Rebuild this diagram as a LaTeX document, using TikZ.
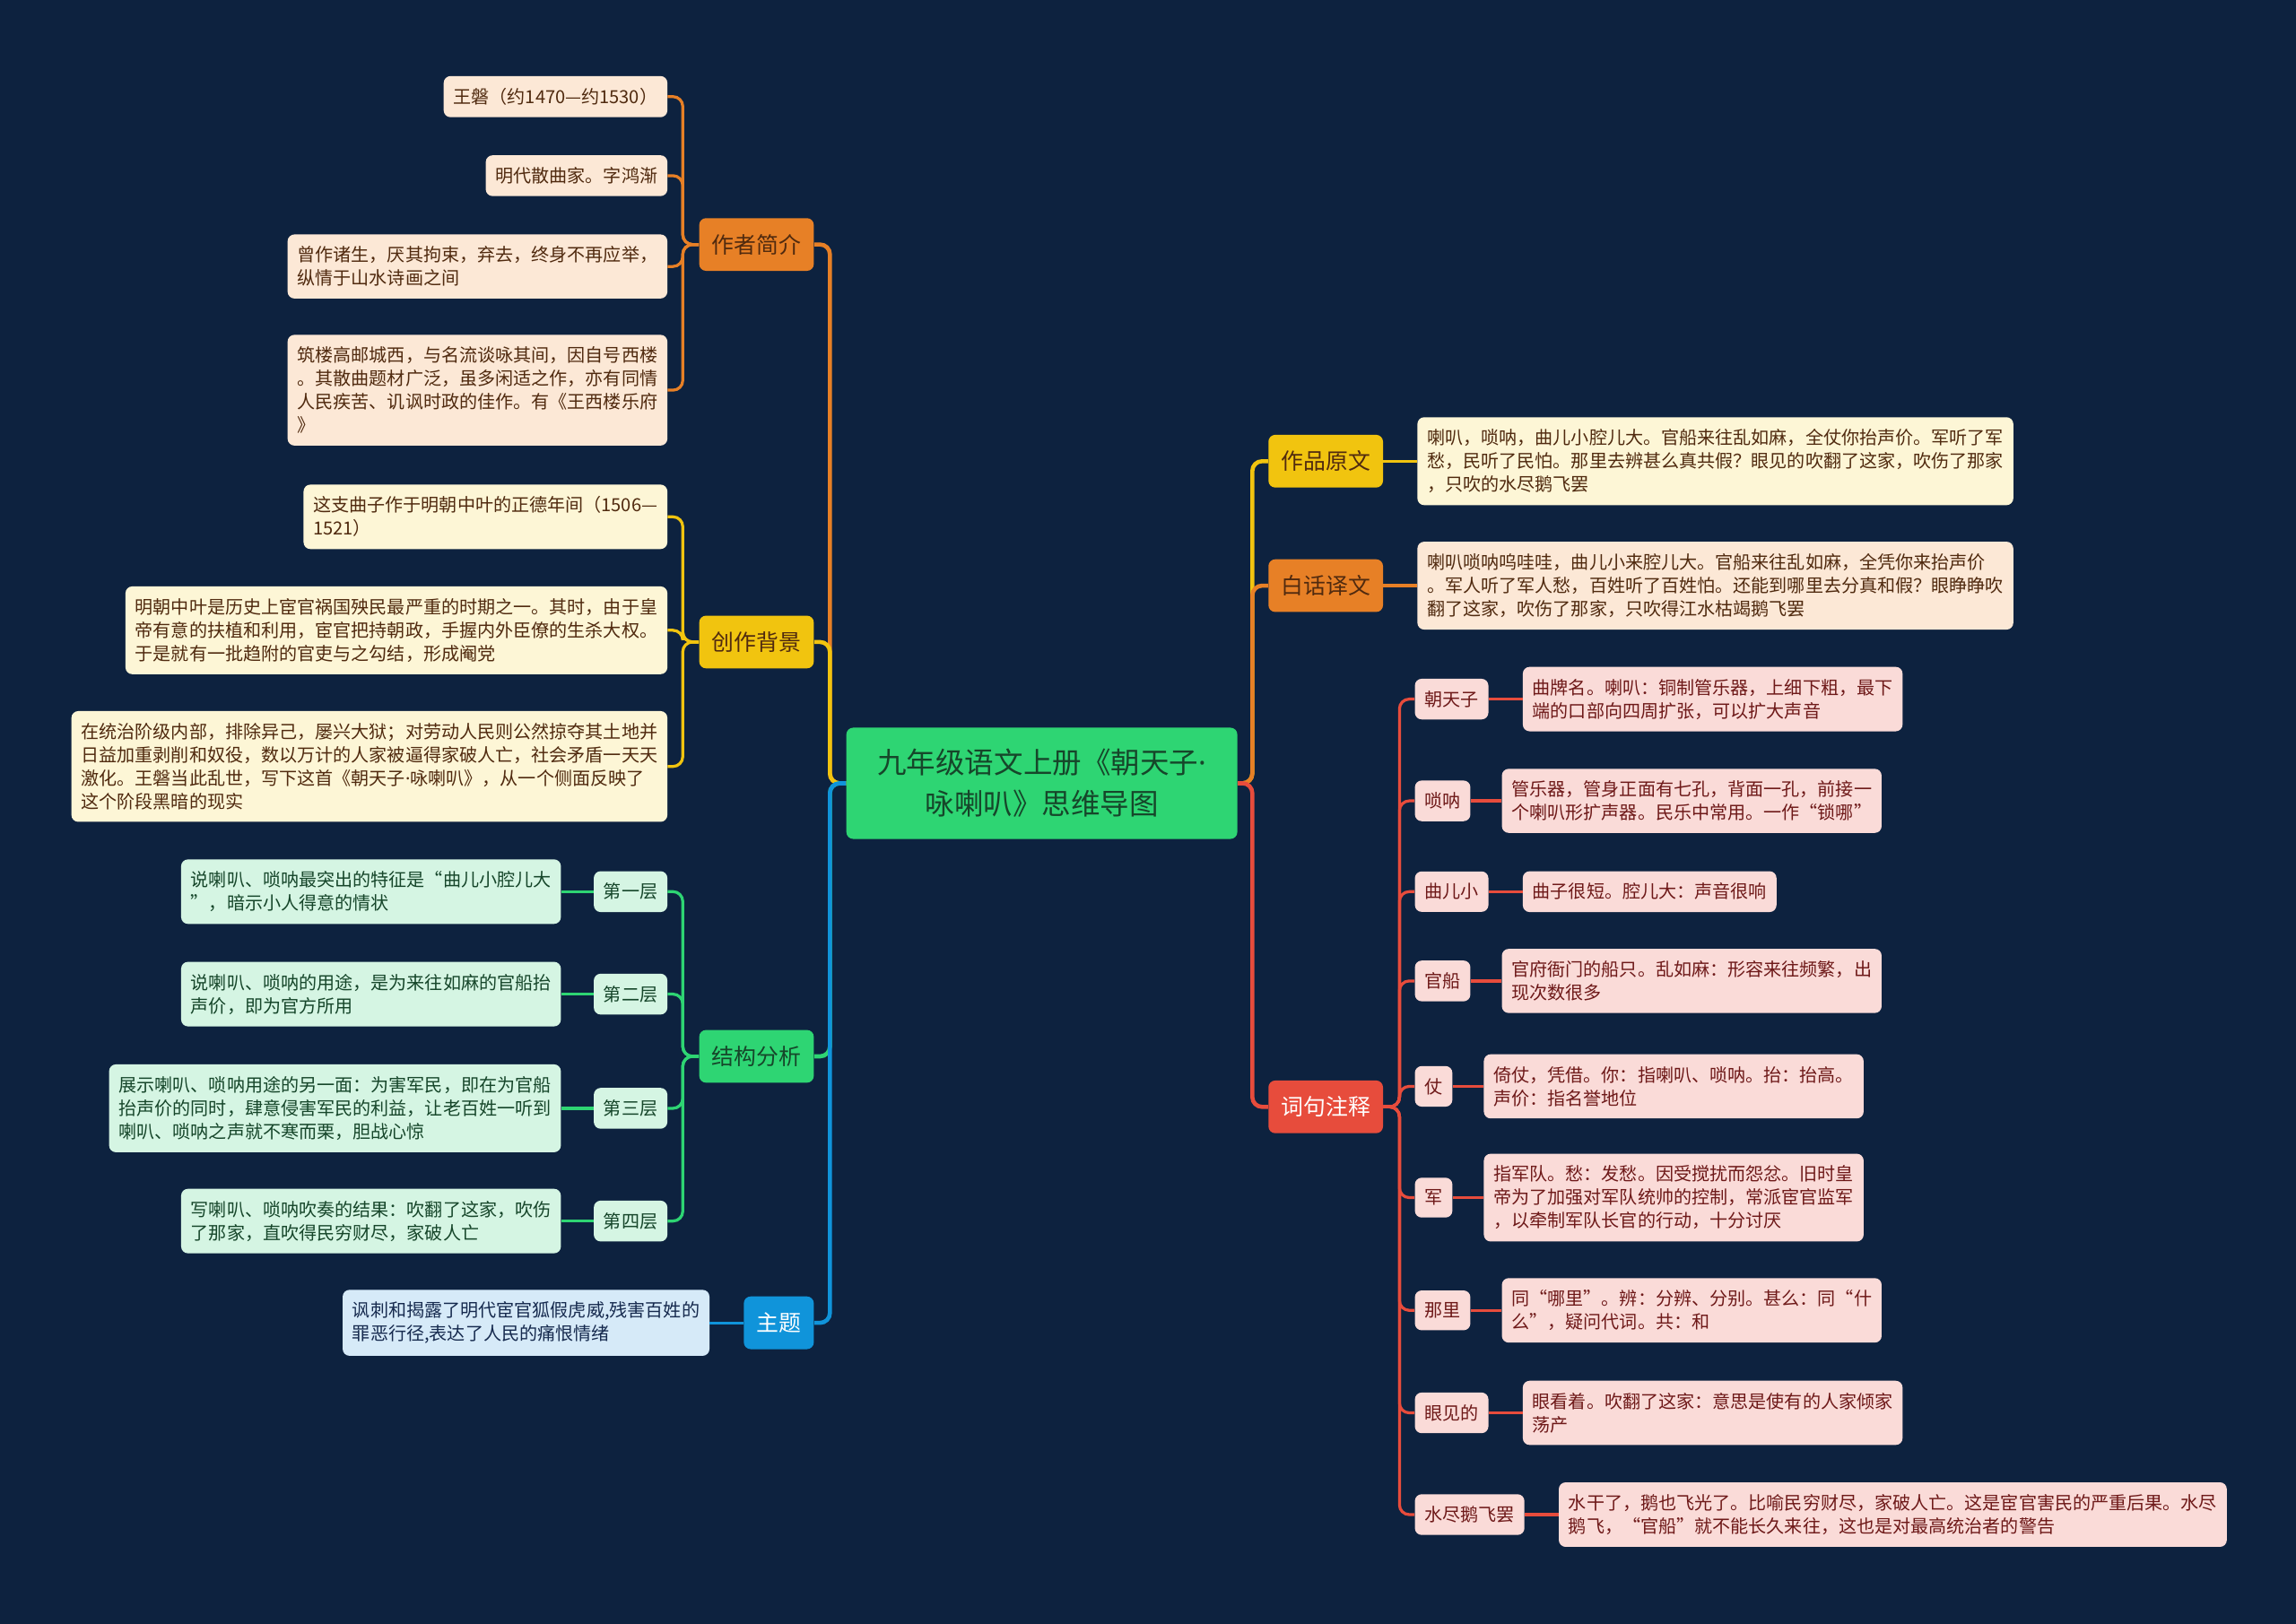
\documentclass[tikz,border=0pt]{standalone}
\usepackage{fontspec}
\setmainfont{Noto Sans CJK SC}
\newfontfamily\latinfont{Noto Sans}
\usepackage{tikz}
\usepackage{xcolor}
\usetikzlibrary{positioning}
\newcommand{\middot}{{\latinfont ·}}

\definecolor{bgnavy}{RGB}{13,34,63}
\definecolor{topicgreen}{RGB}{46,213,115}
\definecolor{mainorange}{RGB}{231,128,38}
\definecolor{mainyellow}{RGB}{241,196,15}
\definecolor{mainred}{RGB}{231,76,60}
\definecolor{mainblue}{RGB}{16,148,218}
\definecolor{peachfill}{RGB}{252,232,214}
\definecolor{creamfill}{RGB}{253,246,214}
\definecolor{mintfill}{RGB}{213,245,227}
\definecolor{skyfill}{RGB}{214,234,248}
\definecolor{pinkfill}{RGB}{250,219,216}
\definecolor{browninkk}{RGB}{80,42,15}
\definecolor{greenink}{RGB}{22,70,42}
\definecolor{maroonink}{RGB}{110,25,25}
\definecolor{navyink}{RGB}{22,42,78}

\begin{document}
\begin{tikzpicture}[x=0.03cm, y=-0.03cm,
    topic/.style={rounded corners=4pt, fill=topicgreen, text=greenink, align=center,
        font=\fontsize{17pt}{24pt}\selectfont, minimum width=8.01cm, minimum height=2.28cm},
    branch/.style={rounded corners=4pt, inner xsep=0.26cm, minimum height=1.08cm,
        font=\fontsize{13pt}{16pt}\selectfont},
    leaf/.style={rounded corners=4pt, align=left, inner xsep=0.2cm, inner ysep=7pt,
        font=\fontsize{10.5pt}{13.6pt}\selectfont},
    link/.style={line width=2.4pt, rounded corners=0.2cm},
    twig/.style={line width=1.7pt, rounded corners=0.2cm}]

    % Background
    \fill[bgnavy] (0,0) rectangle (1568,1109);

    % Central topic
    \node[topic] (title) at (711.5,535) {九年级语文上册《朝天子\middot\\咏喇叭》思维导图};

    % Left branches
    \node[branch, fill=mainorange, text=browninkk, anchor=east] (author) at (556,167) {作者简介};
    \node[branch, fill=mainyellow, text=browninkk, anchor=east] (backdrop) at (556,438.5) {创作背景};
    \node[branch, fill=topicgreen, text=greenink, anchor=east] (layout) at (556,721.5) {结构分析};
    \node[branch, fill=mainblue, text=white, anchor=east] (theme) at (556,903.5) {主题};

    % Right branches
    \node[branch, fill=mainyellow, text=browninkk, anchor=west] (original) at (866,315) {作品原文};
    \node[branch, fill=mainorange, text=browninkk, anchor=west] (version) at (866,400) {白话译文};
    \node[branch, fill=mainred, text=white, anchor=west] (notes) at (866,756) {词句注释};

    % Author leaves
    \node[leaf, fill=peachfill, text=browninkk, anchor=east] (a1) at (456,66) {王磐（约1470—约1530）};
    \node[leaf, fill=peachfill, text=browninkk, anchor=east] (a2) at (456,120) {明代散曲家。字鸿渐};
    \node[leaf, fill=peachfill, text=browninkk, anchor=east] (a3) at (456,182) {曾作诸生，厌其拘束，弃去，终身不再应举，\\纵情于山水诗画之间};
    \node[leaf, fill=peachfill, text=browninkk, anchor=east] (a4) at (456,266.5) {筑楼高邮城西，与名流谈咏其间，因自号西楼\\。其散曲题材广泛，虽多闲适之作，亦有同情\\人民疾苦、讥讽时政的佳作。有《王西楼乐府\\》};

    % Background leaves
    \node[leaf, fill=creamfill, text=browninkk, anchor=east] (b1) at (456,353) {这支曲子作于明朝中叶的正德年间（1506—\\1521）};
    \node[leaf, fill=creamfill, text=browninkk, anchor=east] (b2) at (456,430.5) {明朝中叶是历史上宦官祸国殃民最严重的时期之一。其时，由于皇\\帝有意的扶植和利用，宦官把持朝政，手握内外臣僚的生杀大权。\\于是就有一批趋附的官吏与之勾结，形成阉党};
    \node[leaf, fill=creamfill, text=browninkk, anchor=east] (b3) at (456,523.5) {在统治阶级内部，排除异己，屡兴大狱；对劳动人民则公然掠夺其土地并\\日益加重剥削和奴役，数以万计的人家被逼得家破人亡，社会矛盾一天天\\激化。王磐当此乱世，写下这首《朝天子\middot 咏喇叭》，从一个侧面反映了\\这个阶段黑暗的现实};

    % Structure layers
    \node[leaf, fill=mintfill, text=greenink, anchor=east] (s1) at (456,609) {第一层};
    \node[leaf, fill=mintfill, text=greenink, anchor=east] (s2) at (456,679) {第二层};
    \node[leaf, fill=mintfill, text=greenink, anchor=east] (s3) at (456,757) {第三层};
    \node[leaf, fill=mintfill, text=greenink, anchor=east] (s4) at (456,834) {第四层};
    \node[leaf, fill=mintfill, text=greenink, left=0.66cm of s1] (s1x) {说喇叭、唢呐最突出的特征是“曲儿小腔儿大\\”，暗示小人得意的情状};
    \node[leaf, fill=mintfill, text=greenink, left=0.66cm of s2] (s2x) {说喇叭、唢呐的用途，是为来往如麻的官船抬\\声价，即为官方所用};
    \node[leaf, fill=mintfill, text=greenink, left=0.66cm of s3] (s3x) {展示喇叭、唢呐用途的另一面：为害军民，即在为官船\\抬声价的同时，肆意侵害军民的利益，让老百姓一听到\\喇叭、唢呐之声就不寒而栗，胆战心惊};
    \node[leaf, fill=mintfill, text=greenink, left=0.66cm of s4] (s4x) {写喇叭、唢呐吹奏的结果：吹翻了这家，吹伤\\了那家，直吹得民穷财尽，家破人亡};

    % Theme leaf
    \node[leaf, fill=skyfill, text=navyink, left=0.69cm of theme] (t1) {讽刺和揭露了明代宦官狐假虎威,残害百姓的\\罪恶行径,表达了人民的痛恨情绪};

    % Original text and translation
    \node[leaf, fill=creamfill, text=browninkk, right=0.69cm of original] (o1) {喇叭，唢呐，曲儿小腔儿大。官船来往乱如麻，全仗你抬声价。军听了军\\愁，民听了民怕。那里去辨甚么真共假？眼见的吹翻了这家，吹伤了那家\\，只吹的水尽鹅飞罢};
    \node[leaf, fill=peachfill, text=browninkk, right=0.69cm of version] (v1) {喇叭唢呐呜哇哇，曲儿小来腔儿大。官船来往乱如麻，全凭你来抬声价\\。军人听了军人愁，百姓听了百姓怕。还能到哪里去分真和假？眼睁睁吹\\翻了这家，吹伤了那家，只吹得江水枯竭鹅飞罢};

    % Word notes
    \node[leaf, fill=pinkfill, text=maroonink, anchor=west] (k1) at (966,477.5) {朝天子};
    \node[leaf, fill=pinkfill, text=maroonink, anchor=west] (k2) at (966,547) {唢呐};
    \node[leaf, fill=pinkfill, text=maroonink, anchor=west] (k3) at (966,609) {曲儿小};
    \node[leaf, fill=pinkfill, text=maroonink, anchor=west] (k4) at (966,670) {官船};
    \node[leaf, fill=pinkfill, text=maroonink, anchor=west] (k5) at (966,742) {仗};
    \node[leaf, fill=pinkfill, text=maroonink, anchor=west] (k6) at (966,818) {军};
    \node[leaf, fill=pinkfill, text=maroonink, anchor=west] (k7) at (966,895) {那里};
    \node[leaf, fill=pinkfill, text=maroonink, anchor=west] (k8) at (966,965) {眼见的};
    \node[leaf, fill=pinkfill, text=maroonink, anchor=west] (k9) at (966,1034.5) {水尽鹅飞罢};
    \node[leaf, fill=pinkfill, text=maroonink, right=0.69cm of k1] (k1x) {曲牌名。喇叭：铜制管乐器，上细下粗，最下\\端的口部向四周扩张，可以扩大声音};
    \node[leaf, fill=pinkfill, text=maroonink, right=0.63cm of k2] (k2x) {管乐器，管身正面有七孔，背面一孔，前接一\\个喇叭形扩声器。民乐中常用。一作“锁哪”};
    \node[leaf, fill=pinkfill, text=maroonink, right=0.69cm of k3] (k3x) {曲子很短。腔儿大：声音很响};
    \node[leaf, fill=pinkfill, text=maroonink, right=0.63cm of k4] (k4x) {官府衙门的船只。乱如麻：形容来往频繁，出\\现次数很多};
    \node[leaf, fill=pinkfill, text=maroonink, right=0.63cm of k5] (k5x) {倚仗，凭借。你：指喇叭、唢呐。抬：抬高。\\声价：指名誉地位};
    \node[leaf, fill=pinkfill, text=maroonink, right=0.63cm of k6] (k6x) {指军队。愁：发愁。因受搅扰而怨忿。旧时皇\\帝为了加强对军队统帅的控制，常派宦官监军\\，以牵制军队长官的行动，十分讨厌};
    \node[leaf, fill=pinkfill, text=maroonink, right=0.63cm of k7] (k7x) {同“哪里”。辨：分辨、分别。甚么：同“什\\么”，疑问代词。共：和};
    \node[leaf, fill=pinkfill, text=maroonink, right=0.69cm of k8] (k8x) {眼看着。吹翻了这家：意思是使有的人家倾家\\荡产};
    \node[leaf, fill=pinkfill, text=maroonink, right=0.69cm of k9] (k9x) {水干了，鹅也飞光了。比喻民穷财尽，家破人亡。这是宦官害民的严重后果。水尽\\鹅飞，“官船”就不能长久来往，这也是对最高统治者的警告};

    % Links from the centre, left side
    \draw[link, mainorange] (title.west) -- ++(-11,0) |- (author.east);
    \draw[link, mainyellow] (title.west) -- ++(-11,0) |- (backdrop.east);
    \draw[link, topicgreen] (title.west) -- ++(-11,0) |- (layout.east);
    \draw[link, mainblue] (title.west) -- ++(-11,0) |- (theme.east);

    % Links from the centre, right side
    \draw[link, mainyellow] (title.east) -- ++(10,0) |- (original.west);
    \draw[link, mainorange] (title.east) -- ++(10,0) |- (version.west);
    \draw[link, mainred] (title.east) -- ++(10,0) |- (notes.west);

    % Author links
    \draw[twig, mainorange] (author.west) -- ++(-11,0) |- (a1.east);
    \draw[twig, mainorange] (author.west) -- ++(-11,0) |- (a2.east);
    \draw[twig, mainorange] (author.west) -- ++(-11,0) |- (a3.east);
    \draw[twig, mainorange] (author.west) -- ++(-11,0) |- (a4.east);

    % Background links
    \draw[twig, mainyellow] (backdrop.west) -- ++(-11,0) |- (b1.east);
    \draw[twig, mainyellow] (backdrop.west) -- ++(-11,0) |- (b2.east);
    \draw[twig, mainyellow] (backdrop.west) -- ++(-11,0) |- (b3.east);

    % Structure links
    \draw[twig, topicgreen] (layout.west) -- ++(-11,0) |- (s1.east);
    \draw[twig, topicgreen] (layout.west) -- ++(-11,0) |- (s2.east);
    \draw[twig, topicgreen] (layout.west) -- ++(-11,0) |- (s3.east);
    \draw[twig, topicgreen] (layout.west) -- ++(-11,0) |- (s4.east);
    \draw[twig, topicgreen] (s1.west) -- (s1x.east);
    \draw[twig, topicgreen] (s2.west) -- (s2x.east);
    \draw[twig, topicgreen] (s3.west) -- (s3x.east);
    \draw[twig, topicgreen] (s4.west) -- (s4x.east);

    % Theme, original and translation links
    \draw[twig, mainblue] (theme.west) -- (t1.east);
    \draw[twig, mainyellow] (original.east) -- (o1.west);
    \draw[twig, mainorange] (version.east) -- (v1.west);

    % Note links
    \draw[twig, mainred] (notes.east) -- ++(11,0) |- (k1.west);
    \draw[twig, mainred] (notes.east) -- ++(11,0) |- (k2.west);
    \draw[twig, mainred] (notes.east) -- ++(11,0) |- (k3.west);
    \draw[twig, mainred] (notes.east) -- ++(11,0) |- (k4.west);
    \draw[twig, mainred] (notes.east) -- ++(11,0) |- (k5.west);
    \draw[twig, mainred] (notes.east) -- ++(11,0) |- (k6.west);
    \draw[twig, mainred] (notes.east) -- ++(11,0) |- (k7.west);
    \draw[twig, mainred] (notes.east) -- ++(11,0) |- (k8.west);
    \draw[twig, mainred] (notes.east) -- ++(11,0) |- (k9.west);
    \draw[twig, mainred] (k1.east) -- (k1x.west);
    \draw[twig, mainred] (k2.east) -- (k2x.west);
    \draw[twig, mainred] (k3.east) -- (k3x.west);
    \draw[twig, mainred] (k4.east) -- (k4x.west);
    \draw[twig, mainred] (k5.east) -- (k5x.west);
    \draw[twig, mainred] (k6.east) -- (k6x.west);
    \draw[twig, mainred] (k7.east) -- (k7x.west);
    \draw[twig, mainred] (k8.east) -- (k8x.west);
    \draw[twig, mainred] (k9.east) -- (k9x.west);
\end{tikzpicture}
\end{document}
